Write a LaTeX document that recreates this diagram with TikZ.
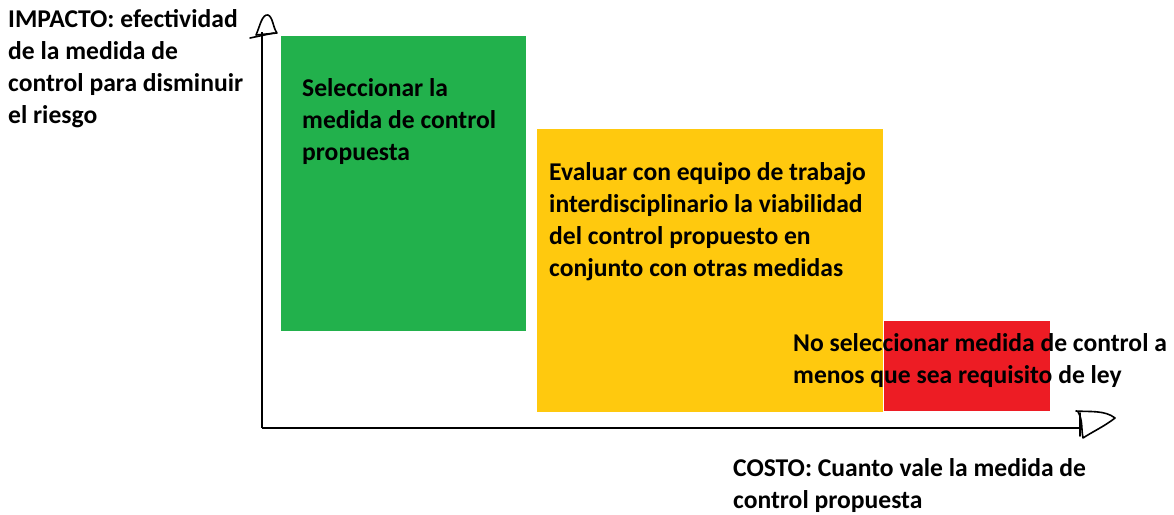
\documentclass[tikz,border=0pt]{standalone}
\usepackage{fontspec}
\setmainfont{Carlito}
\definecolor{verde}{HTML}{22B14C}
\definecolor{amarillo}{HTML}{FFC90E}
\definecolor{rojo}{HTML}{ED1C24}
\begin{document}
\begin{tikzpicture}[x=1pt, y=-1pt,
    texto/.style={anchor=north west, inner sep=0pt, align=left, font=\fontsize{25.6}{32}\selectfont\bfseries},
    eje/.style={line width=2.6pt},
    punta/.style={line width=1.6pt, line join=round, line cap=round}]
\useasboundingbox (0,0) rectangle (1174,514);
\fill[verde] (281,36) rectangle (526,331);
\fill[amarillo] (537,129) rectangle (883,412);
\fill[rojo] (884,321) rectangle (1050,411);
\coordinate (O) at (262,428);
\coordinate (ytop) at (262,32);
\coordinate (xend) at (1080,428);
\draw[eje] (O)--(ytop);
\draw[eje] (O)--(xend);
% puntas dibujadas a mano
\draw[punta] (256,35) .. controls (260,26) and (262,14) .. (268,15) .. controls (273,17) and (273,28) .. (277,33) -- cycle;
\draw[punta] (250,38)--(274,33);
\draw[punta] (1076,411) .. controls (1090,412) and (1105,410) .. (1115,418) .. controls (1105,426) and (1092,432) .. (1083,438) .. controls (1081,428) and (1083,420) .. (1078,412);
\draw[punta] (1080,413)--(1080,436);
\node[texto] (impacto) at (8,9) {IMPACTO: efectividad\\de la medida de\\control para disminuir\\el riesgo};
\node[texto] (verdetxt) at (302,78) {Seleccionar la\\medida de control\\propuesta};
\node[texto] (amarillotxt) at (549,162) {Evaluar con equipo de trabajo\\interdisciplinario la viabilidad\\del control propuesto en\\conjunto con otras medidas};
\node[texto] (rojotxt) at (793,333) {No seleccionar medida de control a\\menos que sea requisito de ley};
\node[texto] (costo) at (733,458) {COSTO: Cuanto vale la medida de\\control propuesta};
\end{tikzpicture}
\end{document}
